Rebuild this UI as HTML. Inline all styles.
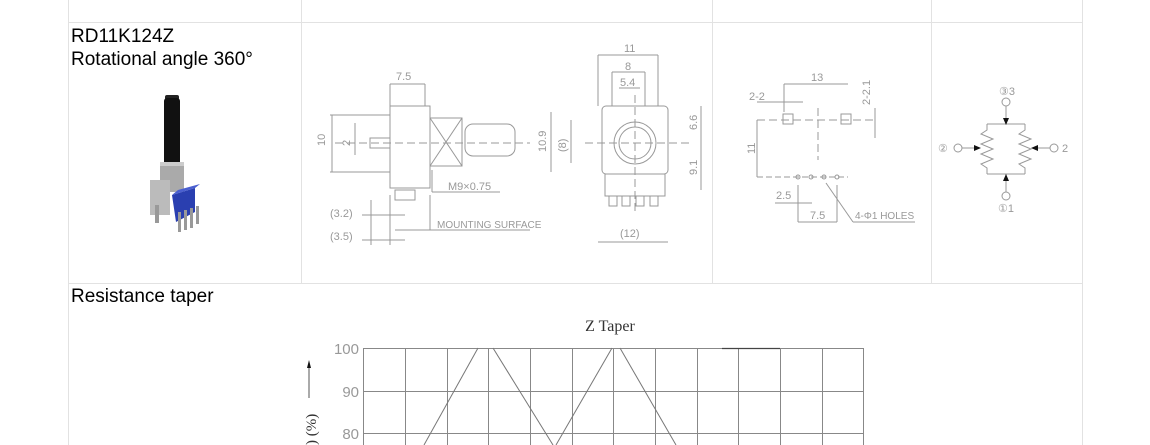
<!DOCTYPE html>
<html><head><meta charset="utf-8"><style>
html,body{margin:0;padding:0;background:#fff;width:1150px;height:445px;overflow:hidden}
svg{display:block}
.t{font-family:"Liberation Sans",sans-serif;font-size:19px;fill:#000}
.d{font-family:"Liberation Sans",sans-serif;font-size:11px;fill:#999}
</style></head><body>
<svg width="1150" height="445" viewBox="0 0 1150 445" xmlns="http://www.w3.org/2000/svg">
<g stroke="#e2e2e2" stroke-width="1" fill="none">
<line x1="68.5" y1="0" x2="68.5" y2="445"/>
<line x1="1082.5" y1="0" x2="1082.5" y2="445"/>
<line x1="301.5" y1="0" x2="301.5" y2="283"/>
<line x1="712.5" y1="0" x2="712.5" y2="283"/>
<line x1="931.5" y1="0" x2="931.5" y2="283"/>
<line x1="68" y1="22.5" x2="1082" y2="22.5"/>
<line x1="68" y1="283.5" x2="1082" y2="283.5"/>
</g>
<text class="t" x="71" y="42">RD11K124Z</text>
<text class="t" x="71" y="65">Rotational angle 360°</text>
<text class="t" x="71" y="302">Resistance taper</text>

<!-- photo -->
<g>
<rect x="165" y="95" width="14" height="5" rx="2" fill="#222"/>
<rect x="164" y="98" width="16" height="80" rx="3" fill="#111"/>
<rect x="160" y="162" width="24" height="30" fill="#aaa"/>
<rect x="160" y="162" width="24" height="4" fill="#ccc"/>
<rect x="150" y="180" width="20" height="35" fill="#bbb"/>
<polygon points="172,195 195,188 195,212 176,222" fill="#2a3fb0"/>
<polygon points="172,195 178,190 200,184 195,188" fill="#4a5fd0"/>
<rect x="178" y="212" width="3" height="20" fill="#999"/>
<rect x="184" y="210" width="3" height="20" fill="#999"/>
<rect x="190" y="208" width="3" height="20" fill="#999"/>
<rect x="196" y="206" width="3" height="18" fill="#999"/>
<rect x="155" y="205" width="4" height="18" fill="#999"/>
</g>

<!-- side view -->
<g stroke="#999" stroke-width="1" fill="none">
<rect x="390" y="106" width="40" height="82"/>
<rect x="430" y="118" width="32" height="48"/>
<line x1="430" y1="118" x2="462" y2="166"/><line x1="430" y1="166" x2="462" y2="118"/>
<rect x="465" y="124" width="50" height="32" rx="8"/>
<rect x="370" y="138" width="20" height="10"/>
<rect x="395" y="190" width="20" height="10"/>
<line x1="335" y1="143" x2="530" y2="143" stroke-dasharray="8,4"/>
<line x1="390" y1="84" x2="425" y2="84"/><line x1="390" y1="84" x2="390" y2="106"/><line x1="425" y1="84" x2="425" y2="106"/>
<line x1="330" y1="115" x2="390" y2="115"/><line x1="330" y1="172" x2="390" y2="172"/><line x1="332" y1="115" x2="332" y2="172"/>
<line x1="355" y1="123" x2="355" y2="155"/>
<line x1="432" y1="170" x2="432" y2="192"/><line x1="432" y1="192" x2="500" y2="192"/>
<line x1="362" y1="215" x2="405" y2="215"/><line x1="362" y1="240" x2="405" y2="240"/>
<line x1="371" y1="200" x2="371" y2="245"/><line x1="390" y1="195" x2="390" y2="245"/>
<line x1="430" y1="195" x2="430" y2="230"/><line x1="395" y1="230" x2="530" y2="230"/>
</g>
<text class="d" x="396" y="80">7.5</text>
<text class="d" x="325" y="146" transform="rotate(-90 325 146)">10</text>
<text class="d" x="350" y="146" transform="rotate(-90 350 146)">2</text>
<text class="d" x="448" y="190">M9×0.75</text>
<text class="d" x="330" y="217">(3.2)</text>
<text class="d" x="330" y="240">(3.5)</text>
<text class="d" x="437" y="228" style="font-size:10px">MOUNTING SURFACE</text>

<!-- front view -->
<g stroke="#999" stroke-width="1" fill="none">
<rect x="602" y="106" width="66" height="68" rx="4"/>
<circle cx="635" cy="143" r="21"/><circle cx="635" cy="143" r="16"/>
<rect x="605" y="174" width="60" height="22"/>
<rect x="609" y="196" width="8" height="10"/><rect x="622" y="196" width="8" height="10"/><rect x="636" y="196" width="8" height="10"/><rect x="650" y="196" width="8" height="10"/>
<line x1="585" y1="143" x2="690" y2="143" stroke-dasharray="8,4"/>
<line x1="635" y1="95" x2="635" y2="215" stroke-dasharray="8,4"/>
<line x1="598" y1="55" x2="658" y2="55"/><line x1="598" y1="55" x2="598" y2="106"/><line x1="658" y1="55" x2="658" y2="106"/>
<line x1="612" y1="72" x2="645" y2="72"/><line x1="612" y1="72" x2="612" y2="106"/><line x1="645" y1="72" x2="645" y2="106"/>
<line x1="619" y1="88" x2="640" y2="88"/>
<line x1="551" y1="112" x2="551" y2="172"/><line x1="571" y1="120" x2="571" y2="163"/>
<line x1="701" y1="106" x2="701" y2="190"/>
<line x1="598" y1="242" x2="668" y2="242"/>
</g>
<text class="d" x="624" y="52">11</text>
<text class="d" x="625" y="70">8</text>
<text class="d" x="620" y="86">5.4</text>
<text class="d" x="546" y="152" transform="rotate(-90 546 152)">10.9</text>
<text class="d" x="566" y="152" transform="rotate(-90 566 152)">(8)</text>
<text class="d" x="697" y="130" transform="rotate(-90 697 130)">6.6</text>
<text class="d" x="697" y="175" transform="rotate(-90 697 175)">9.1</text>
<text class="d" x="620" y="237">(12)</text>

<!-- pcb layout -->
<g stroke="#999" stroke-width="1" fill="none">
<rect x="783" y="114" width="10" height="10"/><rect x="841" y="114" width="10" height="10"/>
<line x1="757" y1="120" x2="875" y2="120" stroke-dasharray="8,4"/>
<line x1="818" y1="108" x2="818" y2="160" stroke-dasharray="8,4"/>
<line x1="784" y1="84" x2="848" y2="84"/><line x1="784" y1="84" x2="784" y2="112"/>
<line x1="757" y1="102" x2="803" y2="102"/>
<line x1="875" y1="108" x2="875" y2="138"/>
<line x1="757" y1="120" x2="757" y2="177"/>
<line x1="757" y1="177" x2="848" y2="177" stroke-dasharray="6,3"/>
<circle cx="798" cy="177" r="2"/><circle cx="811" cy="177" r="2"/><circle cx="824" cy="177" r="2"/><circle cx="837" cy="177" r="2"/>
<line x1="775" y1="203" x2="812" y2="203"/><line x1="798" y1="185" x2="798" y2="222"/><line x1="837" y1="185" x2="837" y2="222"/>
<line x1="798" y1="222" x2="837" y2="222"/>
<line x1="826" y1="183" x2="853" y2="222"/><line x1="853" y1="222" x2="915" y2="222"/>
</g>
<text class="d" x="811" y="81">13</text>
<text class="d" x="749" y="100">2-2</text>
<text class="d" x="870" y="105" transform="rotate(-90 870 105)">2-2.1</text>
<text class="d" x="755" y="154" transform="rotate(-90 755 154)">11</text>
<text class="d" x="776" y="199">2.5</text>
<text class="d" x="810" y="219">7.5</text>
<text class="d" x="855" y="219" style="font-size:10px">4-Φ1 HOLES</text>

<!-- schematic -->
<g stroke="#999" stroke-width="1" fill="none">
<circle cx="1006" cy="102" r="4"/><circle cx="1006" cy="196" r="4"/>
<circle cx="958" cy="148" r="4"/><circle cx="1054" cy="148" r="4"/>
<line x1="1006" y1="106" x2="1006" y2="124"/><line x1="1006" y1="174" x2="1006" y2="192"/>
<line x1="987" y1="124" x2="1025" y2="124"/><line x1="987" y1="174" x2="1025" y2="174"/>
<polyline points="987,124 987,130 981,134 993,139 981,144 993,149 981,154 993,159 981,164 987,168 987,174"/>
<polyline points="1025,124 1025,130 1019,134 1031,139 1019,144 1031,149 1019,154 1031,159 1019,164 1025,168 1025,174"/>
<line x1="962" y1="148" x2="978" y2="148"/><line x1="1034" y1="148" x2="1050" y2="148"/>
</g>
<g fill="#111">
<polygon points="1003,118 1009,118 1006,125"/>
<polygon points="1003,181 1009,181 1006,174"/>
<polygon points="974,145 974,151 981,148"/>
<polygon points="1038,145 1038,151 1031,148"/>
</g>
<text class="d" x="999" y="95">③3</text>
<text class="d" x="998" y="212">①1</text>
<text class="d" x="938" y="152">②</text>
<text class="d" x="1062" y="152">2</text>

<!-- chart -->
<text x="610" y="331" text-anchor="middle" style="font-family:'Liberation Serif',serif;font-size:16px;fill:#333">Z  Taper</text>
<g stroke="#888" stroke-width="1" fill="none">
<line x1="363" y1="348.5" x2="863" y2="348.5"/>
<line x1="363" y1="391.5" x2="863" y2="391.5"/>
<line x1="363" y1="433.5" x2="863" y2="433.5"/>
<line x1="363.5" y1="348" x2="363.5" y2="445"/><line x1="405.5" y1="348" x2="405.5" y2="445"/>
<line x1="447.5" y1="348" x2="447.5" y2="445"/><line x1="488.5" y1="348" x2="488.5" y2="445"/>
<line x1="530.5" y1="348" x2="530.5" y2="445"/><line x1="572.5" y1="348" x2="572.5" y2="445"/>
<line x1="613.5" y1="348" x2="613.5" y2="445"/><line x1="655.5" y1="348" x2="655.5" y2="445"/>
<line x1="697.5" y1="348" x2="697.5" y2="445"/><line x1="738.5" y1="348" x2="738.5" y2="445"/>
<line x1="780.5" y1="348" x2="780.5" y2="445"/><line x1="822.5" y1="348" x2="822.5" y2="445"/>
<line x1="863.5" y1="348" x2="863.5" y2="445"/>
</g>
<g stroke="#777" stroke-width="1" fill="none">
<line x1="424" y1="445" x2="478" y2="348"/>
<line x1="493" y1="348" x2="553" y2="445"/>
<line x1="556" y1="445" x2="612" y2="348"/>
<line x1="620" y1="348" x2="676" y2="445"/>
</g>
<line x1="722" y1="348.5" x2="780" y2="348.5" stroke="#444" stroke-width="1.2"/>
<g style="font-family:'Liberation Sans',sans-serif;font-size:15px;fill:#999" text-anchor="end">
<text x="359" y="354">100</text><text x="359" y="397">90</text><text x="359" y="439">80</text>
</g>
<line x1="309" y1="366" x2="309" y2="398" stroke="#555" stroke-width="1"/>
<polygon points="307,368 311,368 309,360" fill="#111"/>
<text x="316" y="445" transform="rotate(-90 316 445)" style="font-family:'Liberation Serif',serif;font-size:15px;fill:#333">) (%)</text>
</svg>
</body></html>
